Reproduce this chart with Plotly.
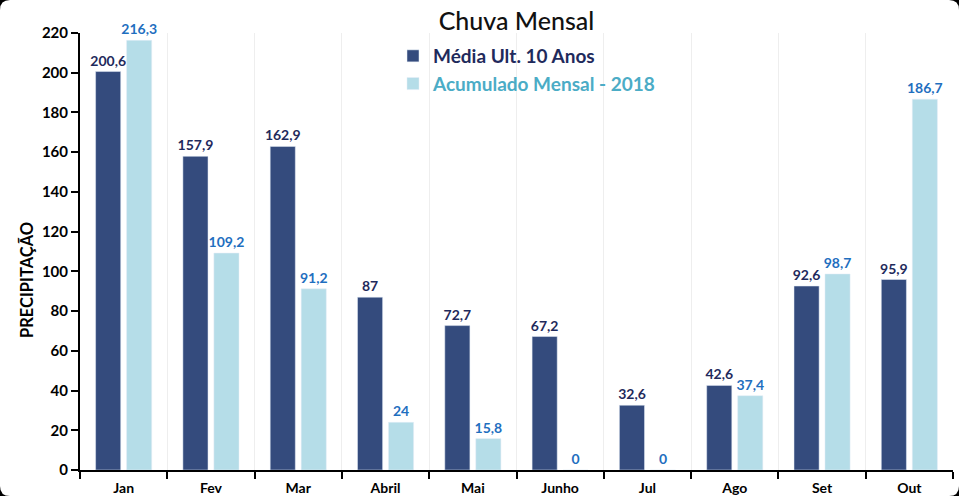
import plotly.graph_objects as go

months = ["Jan", "Fev", "Mar", "Abril", "Mai", "Junho", "Jul", "Ago", "Set", "Out"]
media_10 = [200.6, 157.9, 162.9, 87, 72.7, 67.2, 32.6, 42.6, 92.6, 95.9]
acum_2018 = [216.3, 109.2, 91.2, 24, 15.8, 0, 0, 37.4, 98.7, 186.7]
y_ticks = [0, 20, 40, 60, 80, 100, 120, 140, 160, 180, 200, 220]

FONT = "Lato, 'DejaVu Sans', sans-serif"
W, H = 959, 496
L, R, T, B = 80, 6, 33, 26
PW, PH = W - L - R, H - T - B


def px(x):
    return (x - L) / PW


def py(y):
    return (H - B - y) / PH


fig = go.Figure()
fig.add_trace(go.Bar(
    x=months, y=media_10, name="Média Ult. 10 Anos", legendgroup="a",
    marker=dict(color="#344B7D"),
    texttemplate="%{y}", textposition="outside", cliponaxis=False, constraintext="none",
    textfont=dict(family=FONT, size=14, color="#1F2A5C", weight="bold"),
))
fig.add_trace(go.Bar(
    x=months, y=acum_2018,
    name="<span style='color:#4BACC6'>Acumulado Mensal - 2018</span>", legendgroup="b",
    marker=dict(color="#B5DDE8"),
    texttemplate="%{y}", textposition="outside", cliponaxis=False, constraintext="none",
    textfont=dict(family=FONT, size=14, color="#1F6FBF", weight="bold"),
))

# rounded white card on black background
r = 10
x0, x1, y0, y1 = 0, W, 0, H
path = (f"M {px(x0 + r)} {py(y0)} L {px(x1 - r)} {py(y0)} Q {px(x1)} {py(y0)} {px(x1)} {py(y0 + r)} "
        f"L {px(x1)} {py(y1 - r)} Q {px(x1)} {py(y1)} {px(x1 - r)} {py(y1)} "
        f"L {px(x0 + r)} {py(y1)} Q {px(x0)} {py(y1)} {px(x0)} {py(y1 - r)} "
        f"L {px(x0)} {py(y0 + r)} Q {px(x0)} {py(y0)} {px(x0 + r)} {py(y0)} Z")

fig.update_layout(
    width=W, height=H,
    margin=dict(l=L, r=R, t=T, b=B, autoexpand=False),
    paper_bgcolor="black", plot_bgcolor="white",
    separators=",.",
    barmode="group", bargap=0.29, bargroupgap=0.19,
    title=dict(text="Chuva Mensal", x=0.5, xref="paper", xanchor="center",
               y=1 - 21 / H, yanchor="middle", yref="container",
               font=dict(family=FONT, size=25, color="#111111", weight=500)),
    legend=dict(x=px(393), y=py(37), xanchor="left", yanchor="top", bgcolor="rgba(0,0,0,0)",
                font=dict(family=FONT, size=19, color="#1F2A5C", weight="bold"),
                itemwidth=30, tracegroupgap=4, traceorder="normal"),
    showlegend=True,
    font=dict(family=FONT),
    shapes=[dict(type="path", path=path, xref="paper", yref="paper",
                 fillcolor="white", line=dict(width=0), layer="below")],
    annotations=[dict(text="PRECIPITAÇÃO", textangle=-90, x=px(27), y=py(280),
                      xref="paper", yref="paper", showarrow=False,
                      xanchor="center", yanchor="middle",
                      font=dict(family=FONT, size=16.5, color="black", weight="bold"))],
)

fig.update_xaxes(
    showline=True, linecolor="black", linewidth=2,
    ticks="outside", tickson="boundaries", ticklen=7, tickwidth=2, tickcolor="black",
    showgrid=True, gridcolor="#EEEEEE", gridwidth=1, ticklabelstandoff=4,
    tickfont=dict(family=FONT, size=14, color="black", weight="bold"),
)
fig.update_yaxes(
    range=[0, 220], tickvals=y_ticks,
    showline=True, linecolor="black", linewidth=2,
    ticks="outside", ticklen=7, tickwidth=2, tickcolor="black",
    showgrid=False, zeroline=False,
    tickfont=dict(family=FONT, size=15, color="black", weight="bold"),
)

fig.write_html("out.html", config={"displayModeBar": False},
               post_script="document.body.style.margin='0';")
